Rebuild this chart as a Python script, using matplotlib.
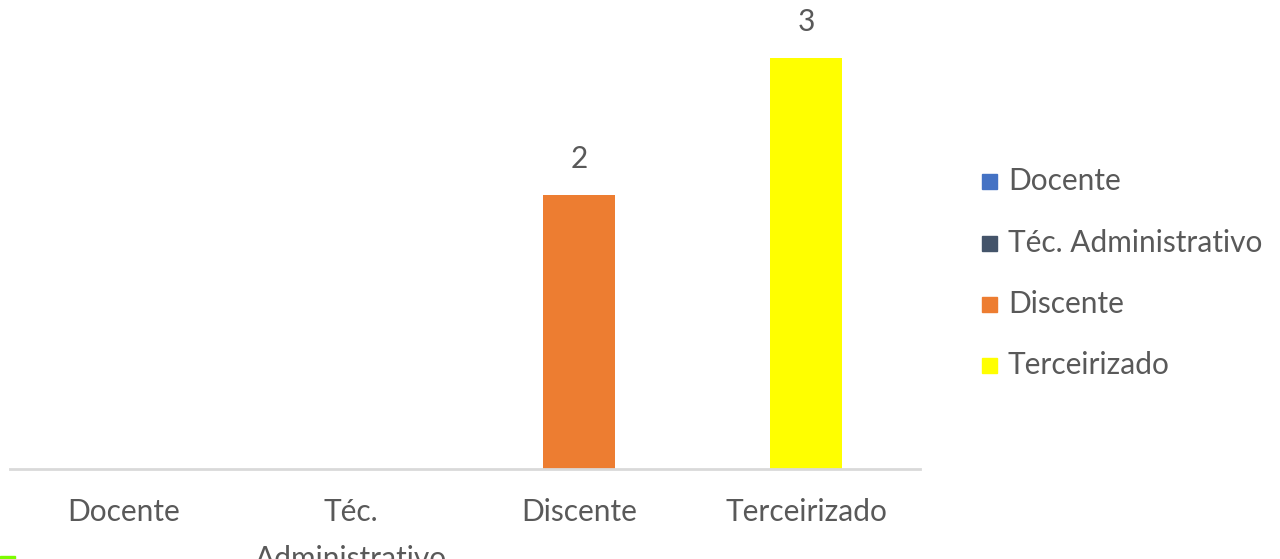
import matplotlib
matplotlib.use("Agg")
import matplotlib.pyplot as plt
from matplotlib.patches import Rectangle

categories = ["Docente", "Téc. Administrativo", "Discente", "Terceirizado"]
tick_labels = ["Docente", "Téc.\nAdministrativo", "Discente", "Terceirizado"]
values = [0, 0, 2, 3]
colors = ["#4472C4", "#44546A", "#ED7D31", "#FFFF00"]

W, H = 1280, 559
DPI = 100
plt.rcParams['font.family'] = ['Lato', 'DejaVu Sans']
TXT = "#595959"
FS = 21.5

fig = plt.figure(figsize=(W / DPI, H / DPI), dpi=DPI)
ax = fig.add_axes([10 / W, (H - 469) / H, 910 / W, 466 / H])

x = list(range(len(categories)))
bars = ax.bar(x, values, width=0.316, color=colors, zorder=2)
for xi, v in zip(x, values):
    if v:
        ax.text(xi, v + 0.265, f"{v}", ha="center", va="center", fontsize=FS, color=TXT)

ax.set_xlim(-0.5, len(categories) - 0.5)
ax.set_ylim(0, 3.4)
for s in ["top", "right", "left"]:
    ax.spines[s].set_visible(False)
ax.spines["bottom"].set_color("#D9D9D9")
ax.spines["bottom"].set_linewidth(2)
ax.set_yticks([])
ax.set_xticks(x)
ax.set_xticklabels(tick_labels, fontsize=FS, color=TXT, linespacing=1.8)
ax.tick_params(axis="x", length=0, pad=21)
for lbl in ax.get_xticklabels():
    lbl.set_verticalalignment("top")

# legend (one entry per series)
leg_y = [181, 243, 304, 365]
for name, c, yy in zip(categories, colors, leg_y):
    fig.patches.append(Rectangle((982 / W, (H - yy - 7.5) / H), 15 / W, 15 / H,
                                 transform=fig.transFigure, color=c))
    fig.text(1008 / W, (H - yy) / H, name, fontsize=FS, color=TXT, va="center", ha="left")

# small green mark in bottom-left corner
fig.patches.append(Rectangle((0, 0), 15 / W, 3 / H, transform=fig.transFigure, color="#7CFC00"))

fig.savefig("out.png", dpi=DPI)
